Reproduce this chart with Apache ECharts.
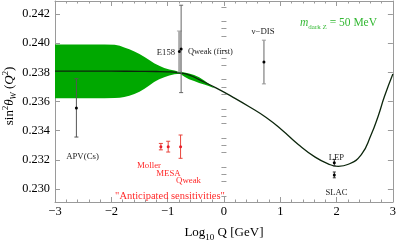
<!DOCTYPE html>
<html>
<head>
<meta charset="utf-8">
<script src="https://cdn.jsdelivr.net/npm/echarts/dist/echarts.min.js"></script>
<style>html,body{margin:0;padding:0;background:#fff;}#c{width:399px;height:247px;}</style>
</head>
<body>
<div id="c"></div>
<script>
// ---- data ----
const xTicks = [-3, -2, -1, 0, 1, 2, 3];
const yTicks = [0.230, 0.232, 0.234, 0.236, 0.238, 0.240, 0.242];
const yMinorTicks = [0.2295, 0.2305, 0.2310, 0.2315, 0.2325, 0.2330, 0.2335, 0.2345, 0.2350, 0.2355,
  0.2365, 0.2370, 0.2375, 0.2385, 0.2390, 0.2395, 0.2405, 0.2410, 0.2415, 0.2425];

// running sin^2 theta_W (with dark Z)
const lineQ = [-3, -2.5, -2, -1.5, -1.2, -1.0, -0.8, -0.6, -0.44, -0.15, 0.15, 0.45, 0.75, 1.02, 1.32, 1.62, 1.85, 2.03, 2.21, 2.44, 2.61, 2.74, 2.85, 3.0];
const lineS = [0.23808, 0.23808, 0.23808, 0.23807, 0.23806, 0.23804, 0.23797, 0.23780, 0.23750, 0.23695, 0.23632, 0.23564, 0.23490, 0.23408, 0.23305, 0.23218, 0.23172, 0.23155, 0.23169, 0.23235, 0.23368, 0.23501, 0.23634, 0.23789];

// green band envelope
const bandQ  = [-3, -2.12, -1.94, -1.85, -1.77, -1.68, -1.59, -1.50, -1.41, -1.32, -1.24, -1.15, -1.06, -0.97, -0.88, -0.78, -0.70, -0.62, -0.53, -0.44, -0.35, -0.27, -0.16];
const bandHi = [0.23991, 0.23991, 0.23989, 0.23982, 0.23970, 0.23958, 0.23943, 0.23926, 0.23906, 0.23884, 0.23863, 0.23845, 0.23830, 0.23820, 0.23813, 0.23803, 0.23799, 0.23793, 0.23782, 0.23767, 0.23745, 0.23722, 0.23690];
const bandLo = [0.23623, 0.23623, 0.23624, 0.23626, 0.23631, 0.23639, 0.23651, 0.23667, 0.23687, 0.23711, 0.23734, 0.23753, 0.23767, 0.23778, 0.23787, 0.23790, 0.23770, 0.23753, 0.23740, 0.23727, 0.23716, 0.23706, 0.23690];

// measurements
const expNames = ['APV(Cs)', 'E158', 'Qweak (first)', 'ν−DIS', 'LEP', 'SLAC'];
const expQ     = [-2.62, -0.79, -0.76, 0.71, 1.96, 1.96];
const expSin2  = [0.23556, 0.23944, 0.23961, 0.23871, 0.23180, 0.23096];
const expErr   = [0.00200, 0.00140, 0.00300, 0.00150, 0.00022, 0.00020];

// anticipated sensitivities
const antNames = ['Moller', 'MESA', 'Qweak'];
const antQ     = [-1.12, -0.99, -0.77];
const antSin2  = [0.2329, 0.2329, 0.2329];
const antErr   = [0.00022, 0.00037, 0.00080];

// ---- styles ----
const SERIF = "'Liberation Serif','Times New Roman',serif";
const FRAME = '#9a9a9a';
const barStyle = {
  'APV(Cs)':      {color: '#555', width: 1, cap: 2},
  'E158':         {color: '#aaa', width: 2.6, cap: 2.5},
  'Qweak (first)':{color: '#666', width: 1, cap: 2},
  'ν−DIS':        {color: '#999', width: 1.5, cap: 2},
  'LEP':          {color: '#333', width: 1, cap: 1.5},
  'SLAC':         {color: '#333', width: 1, cap: 1.5}
};

function errRender(names, styleOf, dotColor) {
  return function (params, api) {
    const q = api.value(0), s = api.value(1), e = api.value(2), i = api.value(3);
    const st = styleOf(names[i]);
    const t = api.coord([q, s + e]), b = api.coord([q, s - e]), c = api.coord([q, s]);
    const ls = {stroke: st.color, lineWidth: st.width};
    const cs = {stroke: st.color, lineWidth: 1};
    return {type: 'group', children: [
      {type: 'line', shape: {x1: t[0], y1: t[1], x2: b[0], y2: b[1]}, style: ls},
      {type: 'line', shape: {x1: t[0] - st.cap, y1: t[1], x2: t[0] + st.cap, y2: t[1]}, style: cs},
      {type: 'line', shape: {x1: b[0] - st.cap, y1: b[1], x2: b[0] + st.cap, y2: b[1]}, style: cs},
      {type: 'circle', shape: {cx: c[0], cy: c[1], r: 1.5}, style: {fill: dotColor}}
    ]};
  };
}

const axisCommon = {
  type: 'value', splitLine: {show: false},
  axisLine: {show: true, onZero: false, lineStyle: {color: FRAME, width: 1}}
};

const chart = echarts.init(document.getElementById('c'), null, {renderer: 'canvas'});
chart.setOption({
  animation: false,
  backgroundColor: '#fff',
  grid: {left: 55, right: 4, top: 1, bottom: 38, containLabel: false},
  xAxis: [
    Object.assign({}, axisCommon, {
      position: 'bottom', min: -3, max: 3, interval: 1,
      axisTick: {show: true, inside: true, length: 5, lineStyle: {color: FRAME}},
      minorTick: {show: true, splitNumber: 5, length: 2.5, lineStyle: {color: FRAME}},
      axisLabel: {color: '#000', fontFamily: SERIF, fontSize: 12.5, margin: 3,
        formatter: v => String(v).replace('-', '−')},
      name: '{t|Log}{s|10}{t| Q [GeV]}', nameLocation: 'middle', nameGap: 21,
      nameTextStyle: {rich: {
        t: {fontFamily: SERIF, fontSize: 13, color: '#000', lineHeight: 16, verticalAlign: 'bottom'},
        s: {fontFamily: SERIF, fontSize: 9, color: '#000', lineHeight: 16, verticalAlign: 'bottom', padding: [0, 0, -3, 0]}
      }}
    }),
    Object.assign({}, axisCommon, {
      position: 'top', min: -3, max: 3, interval: 1,
      axisTick: {show: true, inside: true, length: 5, lineStyle: {color: FRAME}},
      minorTick: {show: true, splitNumber: 5, length: 2.5, lineStyle: {color: FRAME}},
      axisLabel: {show: false}
    })
  ],
  yAxis: [
    Object.assign({}, axisCommon, {
      position: 'left', min: 0.2291, max: 0.2429,
      axisTick: {show: true, inside: true, length: 5, customValues: yTicks, lineStyle: {color: FRAME}},
      axisLabel: {color: '#000', fontFamily: SERIF, fontSize: 12.3, margin: 5, customValues: yTicks,
        formatter: v => v.toFixed(3)}
    }),
    Object.assign({}, axisCommon, {
      position: 'left', min: 0.2291, max: 0.2429,
      axisLine: {show: false},
      axisTick: {show: true, inside: true, length: 2.5, customValues: yMinorTicks, lineStyle: {color: FRAME}},
      axisLabel: {show: false}
    }),
    Object.assign({}, axisCommon, {
      position: 'right', min: 0.2291, max: 0.2429,
      axisTick: {show: true, inside: true, length: 5, customValues: yTicks, lineStyle: {color: FRAME}},
      axisLabel: {show: false}
    }),
    Object.assign({}, axisCommon, {
      position: 'right', min: 0.2291, max: 0.2429,
      axisLine: {show: false},
      axisTick: {show: true, inside: true, length: 2.5, customValues: yMinorTicks, lineStyle: {color: FRAME}},
      axisLabel: {show: false}
    })
  ],
  series: [
    {
      type: 'custom', xAxisIndex: 0, yAxisIndex: 0, silent: true, z: 1,
      data: [[bandQ[0], bandHi[0]]],
      renderItem: function (params, api) {
        const pts = [];
        for (let i = 0; i < bandQ.length; i++) pts.push(api.coord([bandQ[i], bandHi[i]]));
        for (let i = bandQ.length - 1; i >= 0; i--) pts.push(api.coord([bandQ[i], bandLo[i]]));
        return {type: 'polygon', shape: {points: pts}, style: {fill: '#00a800'}};
      }
    },
    {
      type: 'line', xAxisIndex: 0, yAxisIndex: 0, z: 2,
      data: lineQ.map((q, i) => [q, lineS[i]]),
      smooth: 0.5, showSymbol: false, symbol: 'none',
      lineStyle: {color: '#0c260c', width: 1.3}
    },
    {
      type: 'custom', xAxisIndex: 0, yAxisIndex: 0, z: 3,
      dimensions: ['q', 's', 'e', 'i'], encode: {x: 0, y: 1},
      data: expQ.map((q, i) => [q, expSin2[i], expErr[i], i]),
      renderItem: errRender(expNames, n => barStyle[n], '#000')
    },
    {
      type: 'custom', xAxisIndex: 0, yAxisIndex: 0, z: 3,
      dimensions: ['q', 's', 'e', 'i'], encode: {x: 0, y: 1},
      data: antQ.map((q, i) => [q, antSin2[i], antErr[i], i]),
      renderItem: errRender(antNames, n => ({color: '#e8453c', width: 1, cap: 2}), '#e8202a')
    }
  ],
  graphic: [
    {type: 'text', x: 10, y: 96, rotation: Math.PI / 2, z: 10,
      style: {text: '{t|sin}{p|2}{i|θ}{b|W}{t| (}{i|Q}{p|2}{t|)}', align: 'center', verticalAlign: 'middle',
        rich: {
          t: {fontFamily: SERIF, fontSize: 13, fill: '#000', lineHeight: 17, verticalAlign: 'middle'},
          i: {fontFamily: SERIF, fontSize: 13, fontStyle: 'italic', fill: '#000', lineHeight: 17, verticalAlign: 'middle'},
          p: {fontFamily: SERIF, fontSize: 8.5, fill: '#000', lineHeight: 17, verticalAlign: 'top'},
          b: {fontFamily: SERIF, fontSize: 8.5, fontStyle: 'italic', fill: '#000', lineHeight: 17, verticalAlign: 'bottom'}
        }}},
    {type: 'text', x: 300, y: 23, z: 10,
      style: {text: '{i|m}{b|dark Z}{t| = 50 MeV}', align: 'left', verticalAlign: 'middle',
        rich: {
          i: {fontFamily: SERIF, fontSize: 11.5, fontStyle: 'italic', fill: '#33b833', lineHeight: 15, verticalAlign: 'middle'},
          b: {fontFamily: SERIF, fontSize: 7, fill: '#33b833', lineHeight: 13, verticalAlign: 'bottom'},
          t: {fontFamily: SERIF, fontSize: 11.5, fill: '#33b833', lineHeight: 15, verticalAlign: 'middle'}
        }}},
    {type: 'text', x: 82.5, y: 157, z: 10, style: {text: 'APV(Cs)', font: '8.8px ' + SERIF, fill: '#222', align: 'center', verticalAlign: 'middle'}},
    {type: 'text', x: 175, y: 53, z: 10, style: {text: 'E158', font: '8.6px ' + SERIF, fill: '#222', align: 'right', verticalAlign: 'middle'}},
    {type: 'text', x: 188, y: 51.5, z: 10, style: {text: 'Qweak (first)', font: '8.4px ' + SERIF, fill: '#222', align: 'left', verticalAlign: 'middle'}},
    {type: 'text', x: 263, y: 32, z: 10, style: {text: 'ν−DIS', font: '8.8px ' + SERIF, fill: '#222', align: 'center', verticalAlign: 'middle'}},
    {type: 'text', x: 336.5, y: 158, z: 10, style: {text: 'LEP', font: '8.6px ' + SERIF, fill: '#222', align: 'center', verticalAlign: 'middle'}},
    {type: 'text', x: 336.5, y: 193, z: 10, style: {text: 'SLAC', font: '8.6px ' + SERIF, fill: '#222', align: 'center', verticalAlign: 'middle'}},
    {type: 'text', x: 149, y: 166, z: 10, style: {text: 'Moller', font: '8.8px ' + SERIF, fill: '#ff2a2a', align: 'center', verticalAlign: 'middle'}},
    {type: 'text', x: 168.5, y: 173.5, z: 10, style: {text: 'MESA', font: '8.8px ' + SERIF, fill: '#ff2a2a', align: 'center', verticalAlign: 'middle'}},
    {type: 'text', x: 188.5, y: 181, z: 10, style: {text: 'Qweak', font: '8.8px ' + SERIF, fill: '#ff2a2a', align: 'center', verticalAlign: 'middle'}},
    {type: 'text', x: 170, y: 196, z: 10, style: {text: '"Anticipated sensitivities"', font: '10.5px ' + SERIF, fill: '#ff2a2a', align: 'center', verticalAlign: 'middle'}}
  ]
});
</script>
</body>
</html>
